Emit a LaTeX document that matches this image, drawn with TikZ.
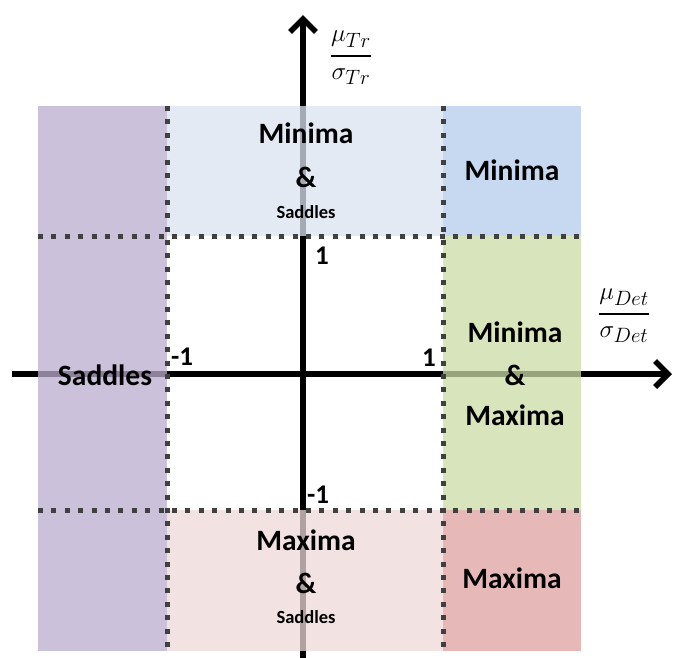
\documentclass[tikz,border=0pt]{standalone}
\usepackage{amsmath}
\usepackage{fontspec}
\setmainfont{Carlito}
\usetikzlibrary{arrows.meta}

\definecolor{saddlefill}{RGB}{187,172,206}
\definecolor{minsadfill}{RGB}{218,227,240}
\definecolor{minfill}{RGB}{179,204,235}
\definecolor{minmaxfill}{RGB}{203,219,166}
\definecolor{maxsadfill}{RGB}{238,216,216}
\definecolor{maxfill}{RGB}{222,162,160}
\definecolor{gridgray}{RGB}{64,64,64}

\tikzset{
  axisline/.style={line width=5.5pt, -{Straight Barb[length=13pt,width=26pt,line width=5.5pt]}},
  region/.style={fill opacity=0.75},
  gridline/.style={gridgray, line width=5pt, dash pattern=on 5pt off 8.4pt},
  biglabel/.style={inner sep=0pt, font=\bfseries\fontsize{29.5}{32}\selectfont},
  smalllabel/.style={inner sep=0pt, font=\bfseries\fontsize{18.5}{20}\selectfont},
  ticklabel/.style={inner sep=0pt, font=\bfseries\fontsize{27}{30}\selectfont},
  axislabel/.style={inner sep=0pt, font=\fontsize{29}{34}\selectfont}
}

\begin{document}
\begin{tikzpicture}[x=1pt, y=-1pt]
\useasboundingbox (0,0) rectangle (677,657);

% axes
\coordinate (xstart) at (12,374);
\coordinate (xend) at (672,374);
\coordinate (ystart) at (303,660);
\coordinate (yend) at (303,15);
\draw[axisline] (xstart) -- (xend);
\draw[axisline] (ystart) -- (yend);

% shaded regions
\fill[region, saddlefill] (38,106) rectangle (167,651);
\fill[region, minsadfill] (167,106) rectangle (443,236);
\fill[region, minfill] (443,106) rectangle (581,236);
\fill[region, minmaxfill] (443,236) rectangle (581,510);
\fill[region, maxsadfill] (167,510) rectangle (443,651);
\fill[region, maxfill] (443,510) rectangle (581,651);

% dotted boundaries
\draw[gridline] (167,106) -- (167,651);
\draw[gridline] (443,106) -- (443,651);
\draw[gridline] (38,236) -- (581,236);
\draw[gridline] (38,510) -- (581,510);

% axis labels
\node[axislabel] (ylab) at (351,58) {$\displaystyle\genfrac{}{}{2.5pt}{0}{\mu_{Tr}}{\sigma_{Tr}}$};
\node[axislabel] (xlab) at (624,316) {$\displaystyle\genfrac{}{}{2.5pt}{0}{\mu_{Det}}{\sigma_{Det}}$};

% tick values
\node[ticklabel] (ytop) at (322,256) {1};
\node[ticklabel] (ybot) at (318,495) {-1};
\node[ticklabel] (xright) at (429,358) {1};
\node[ticklabel] (xleft) at (182,357) {-1};

% region labels
\node[biglabel] (tmA) at (306,133) {Minima};
\node[biglabel] (tmB) at (306,177) {\&};
\node[smalllabel] (tmC) at (306,212) {Saddles};

\node[biglabel] (trA) at (512,170) {Minima};

\node[biglabel] (lA) at (105,375) {Saddles};

\node[biglabel] (rA) at (515,332) {Minima};
\node[biglabel] (rB) at (515,375) {\&};
\node[biglabel] (rC) at (515,415) {Maxima};

\node[biglabel] (bmA) at (306,540) {Maxima};
\node[biglabel] (bmB) at (306,583) {\&};
\node[smalllabel] (bmC) at (306,617) {Saddles};

\node[biglabel] (brA) at (512,578) {Maxima};
\end{tikzpicture}
\end{document}
